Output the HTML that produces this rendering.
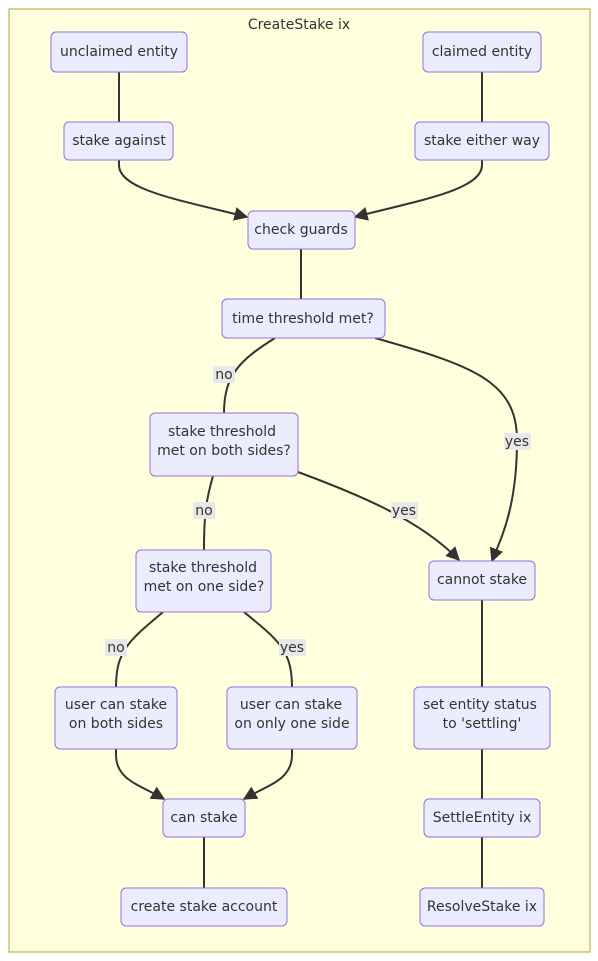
<!DOCTYPE html>
<html><head><meta charset="utf-8"><style>
html,body{margin:0;padding:0;background:#fff;}
svg{display:block;}
text{font-family:"DejaVu Sans","Liberation Sans",sans-serif;font-size:14px;fill:#333;}
.n{fill:#ececff;stroke:#9370db;stroke-width:1;}
.e{fill:none;stroke:#333;stroke-width:2;}
.lb{fill:#e8e8e8;}
</style></head><body>
<svg width="598" height="961" viewBox="0 0 598 961" xmlns="http://www.w3.org/2000/svg">
<defs>
<marker id="b" viewBox="0 0 10 10" refX="9" refY="5" markerWidth="14" markerHeight="14" orient="auto" markerUnits="userSpaceOnUse"><path d="M0,0 L10,5 L0,10 z" fill="#333"/></marker></defs>
<rect x="9" y="9" width="581" height="943" fill="#ffffde" stroke="#aaaa33" stroke-width="1"/>
<text x="299" y="29" text-anchor="middle">CreateStake ix</text>

<g class="e">
<path d="M119,72 V122"/>
<path d="M482,72 V122"/>
<path d="M119,160 V165 C119,190 180,200 247,217" marker-end="url(#b)"/>
<path d="M482,160 V165 C482,190 420,200 355,217" marker-end="url(#b)"/>
<path d="M301,249 V299"/>
<path d="M275,338 C240,360 224,375 224,413"/>
<path d="M375,338 C470,365 517,380 517,440 C517,510 500,540 492,561" marker-end="url(#b)"/>
<path d="M213,476 C206,500 204,515 204,550"/>
<path d="M298,472 C360,495 420,520 459,560" marker-end="url(#b)"/>
<path d="M163,612 C130,640 116,650 116,687"/>
<path d="M244,612 C278,640 292,650 292,687"/>
<path d="M116,749 V755 C116,780 140,785 164,799" marker-end="url(#b)"/>
<path d="M292,749 V755 C292,780 268,785 244,799" marker-end="url(#b)"/>
<path d="M204,837 V888"/>
<path d="M482,600 V687"/>
<path d="M482,749 V799"/>
<path d="M482,837 V888"/>
</g>

<g>
<rect class="lb" x="213" y="366" width="22" height="17"/><text x="224" y="379" text-anchor="middle">no</text>
<rect class="lb" x="504" y="433" width="27" height="17"/><text x="517" y="446" text-anchor="middle">yes</text>
<rect class="lb" x="193" y="502" width="22" height="17"/><text x="204" y="515" text-anchor="middle">no</text>
<rect class="lb" x="391" y="502" width="27" height="17"/><text x="404" y="515" text-anchor="middle">yes</text>
<rect class="lb" x="105" y="639" width="22" height="17"/><text x="116" y="652" text-anchor="middle">no</text>
<rect class="lb" x="279" y="639" width="27" height="17"/><text x="292" y="652" text-anchor="middle">yes</text>
</g>

<rect class="n" x="51" y="32" width="136" height="40" rx="5"/><text x="119" y="56" text-anchor="middle">unclaimed entity</text>
<rect class="n" x="423" y="32" width="118" height="40" rx="5"/><text x="482" y="56" text-anchor="middle">claimed entity</text>
<rect class="n" x="64" y="122" width="109" height="38" rx="5"/><text x="119" y="145" text-anchor="middle">stake against</text>
<rect class="n" x="415" y="122" width="134" height="38" rx="5"/><text x="482" y="145" text-anchor="middle">stake either way</text>
<rect class="n" x="248" y="211" width="107" height="38" rx="5"/><text x="301" y="234" text-anchor="middle">check guards</text>
<rect class="n" x="222" y="299" width="163" height="39" rx="5"/><text x="303" y="323" text-anchor="middle">time threshold met?</text>
<rect class="n" x="150" y="413" width="148" height="63" rx="5"/><text x="222" y="436" text-anchor="middle">stake threshold</text><text x="224" y="455" text-anchor="middle">met on both sides?</text>
<rect class="n" x="136" y="550" width="135" height="62" rx="5"/><text x="203" y="572" text-anchor="middle">stake threshold</text><text x="204" y="591" text-anchor="middle">met on one side?</text>
<rect class="n" x="429" y="561" width="106" height="39" rx="5"/><text x="482" y="584" text-anchor="middle">cannot stake</text>
<rect class="n" x="55" y="687" width="122" height="62" rx="5"/><text x="116" y="709" text-anchor="middle">user can stake</text><text x="116" y="728" text-anchor="middle">on both sides</text>
<rect class="n" x="227" y="687" width="130" height="62" rx="5"/><text x="291" y="709" text-anchor="middle">user can stake</text><text x="292" y="728" text-anchor="middle">on only one side</text>
<rect class="n" x="414" y="687" width="136" height="62" rx="5"/><text x="480" y="709" text-anchor="middle">set entity status</text><text x="482" y="728" text-anchor="middle">to 'settling'</text>
<rect class="n" x="163" y="799" width="82" height="38" rx="5"/><text x="204" y="822" text-anchor="middle">can stake</text>
<rect class="n" x="424" y="799" width="116" height="38" rx="5"/><text x="482" y="822" text-anchor="middle">SettleEntity ix</text>
<rect class="n" x="121" y="888" width="166" height="38" rx="5"/><text x="204" y="911" text-anchor="middle">create stake account</text>
<rect class="n" x="420" y="888" width="124" height="38" rx="5"/><text x="482" y="911" text-anchor="middle">ResolveStake ix</text>
</svg>
</body></html>
